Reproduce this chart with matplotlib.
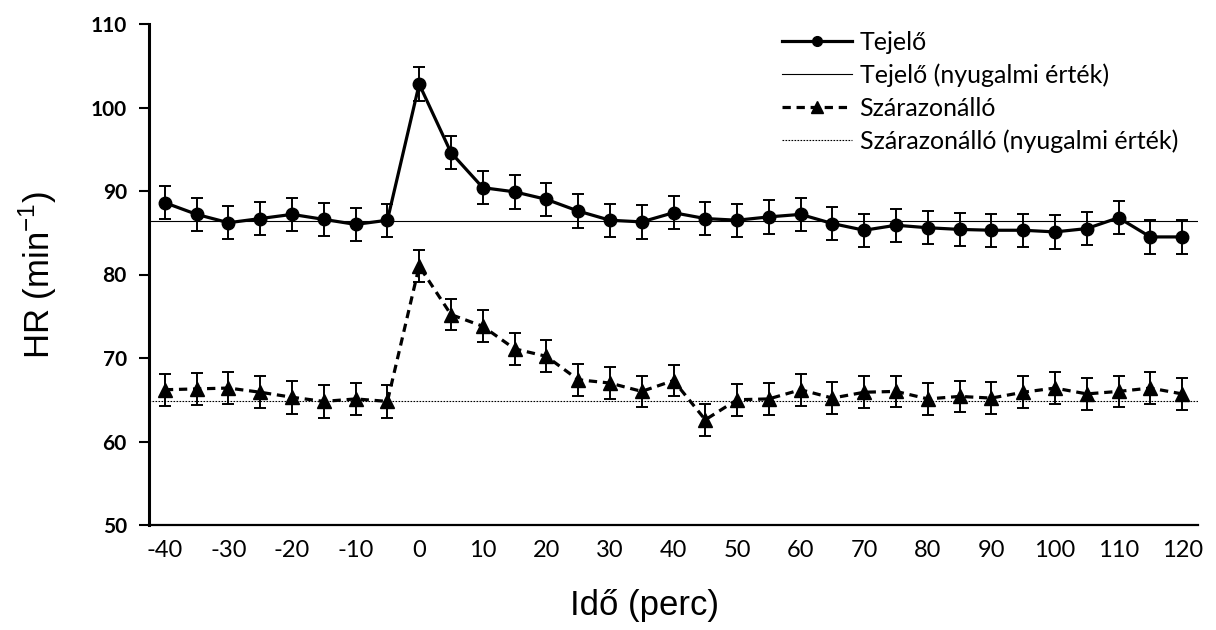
import matplotlib
matplotlib.use("Agg")
import matplotlib.pyplot as plt
from matplotlib.lines import Line2D

# Time points (minutes relative to the event)
ido = list(range(-40, 125, 5))

# Heart rate, lactating cows (mean and SE)
tejelo = [88.6, 87.2, 86.2, 86.7, 87.2, 86.6, 86.0, 86.5, 102.8, 94.6, 90.4, 89.9,
          89.0, 87.6, 86.5, 86.3, 87.4, 86.7, 86.5, 86.9, 87.2, 86.1, 85.3, 85.9,
          85.6, 85.4, 85.3, 85.3, 85.1, 85.5, 86.8, 84.5, 84.5]
tejelo_se = [2.0, 2.0, 2.0, 2.0, 2.0, 2.0, 2.0, 2.0, 2.0, 2.0, 2.0, 2.0,
             2.0, 2.0, 2.0, 2.0, 2.0, 2.0, 2.0, 2.0, 2.0, 2.0, 2.0, 2.0,
             2.0, 2.0, 2.0, 2.0, 2.0, 2.0, 2.0, 2.0, 2.0]
tejelo_nyugalmi = 86.4

# Heart rate, dry cows (mean and SE)
szaraz = [66.2, 66.3, 66.4, 65.9, 65.3, 64.8, 65.1, 64.8, 81.0, 75.2, 73.8, 71.1,
          70.2, 67.4, 67.0, 66.0, 67.3, 62.6, 65.0, 65.1, 66.2, 65.2, 65.9, 66.0,
          65.1, 65.4, 65.2, 65.9, 66.4, 65.7, 66.0, 66.4, 65.7]
szaraz_se = [1.9, 1.9, 1.9, 1.9, 2.0, 2.0, 1.9, 2.0, 1.9, 1.9, 1.9, 1.9,
             1.9, 1.9, 1.9, 1.9, 1.9, 1.9, 1.9, 1.9, 1.9, 1.9, 1.9, 1.9,
             1.9, 1.9, 1.9, 1.9, 1.9, 1.9, 1.9, 1.9, 1.9]
szaraz_nyugalmi = 64.9

x_ticks = list(range(-40, 121, 10))
y_ticks = list(range(50, 111, 10))

plt.rcParams['font.family'] = ['Lato', 'DejaVu Sans']
plt.rcParams['axes.unicode_minus'] = False
plt.rcParams['mathtext.fontset'] = 'custom'
plt.rcParams['mathtext.rm'] = 'Liberation Sans'

fig = plt.figure(figsize=(12.16, 6.30), dpi=100)
ax = fig.add_axes([149 / 1216, 105 / 630, (1198 - 149) / 1216, (525 - 24) / 630])

ax.axhline(tejelo_nyugalmi, color='black', lw=0.8, zorder=1)
ax.axhline(szaraz_nyugalmi, color='black', lw=0.8, ls=(0, (1.5, 1.2)), zorder=1)

err_kw = dict(ecolor='black', elinewidth=1.4, capsize=4.5, capthick=1.4, zorder=2)
ax.errorbar(ido, tejelo, yerr=tejelo_se, fmt='none', **err_kw)
ax.errorbar(ido, szaraz, yerr=szaraz_se, fmt='none', **err_kw)

ax.plot(ido, tejelo, color='black', lw=2.3, marker='o', ms=9, zorder=3)
ax.plot(ido, szaraz, color='black', lw=2.3, ls=(0, (2.6, 1.8)), marker='^', ms=9.5,
        zorder=3)

ax.set_xlim(-42.5, 122.5)
ax.set_ylim(50, 110)
ax.set_xticks(x_ticks)
ax.set_yticks(y_ticks)
ax.tick_params(axis='x', length=0, pad=11, labelsize=17)
ax.tick_params(axis='y', length=7, width=1.5, pad=9, labelsize=15)
for lab in ax.get_yticklabels():
    lab.set_fontweight('bold')

for side in ('top', 'right'):
    ax.spines[side].set_visible(False)
ax.spines['left'].set_linewidth(2.2)
ax.spines['bottom'].set_linewidth(1.6)

fig.text(645 / 1216, 1 - 605 / 630, 'Idő (perc)', ha='center', va='center',
         fontsize=25, family='Liberation Sans')
fig.text(38 / 1216, 1 - 275 / 630, r'HR (min$^{\mathregular{-1}}$)', ha='center',
         va='center', rotation=90, fontsize=25, family='Liberation Sans')

handles = [
    Line2D([], [], color='black', lw=2.3, marker='o', ms=7),
    Line2D([], [], color='black', lw=0.8),
    Line2D([], [], color='black', lw=2.3, ls=(0, (2.6, 1.8)), marker='^', ms=8),
    Line2D([], [], color='black', lw=0.8, ls=(0, (1.5, 1.2))),
]
labels = ['Tejelő', 'Tejelő (nyugalmi érték)', 'Szárazonálló',
          'Szárazonálló (nyugalmi érték)']
fig.legend(handles, labels, loc='upper left', bbox_to_anchor=(782 / 1216, 1 - 31 / 630),
           frameon=False, fontsize=18, handlelength=2.8, handletextpad=0.3,
           labelspacing=0.38, borderaxespad=0, borderpad=0)

fig.savefig('out.png', dpi=100)
